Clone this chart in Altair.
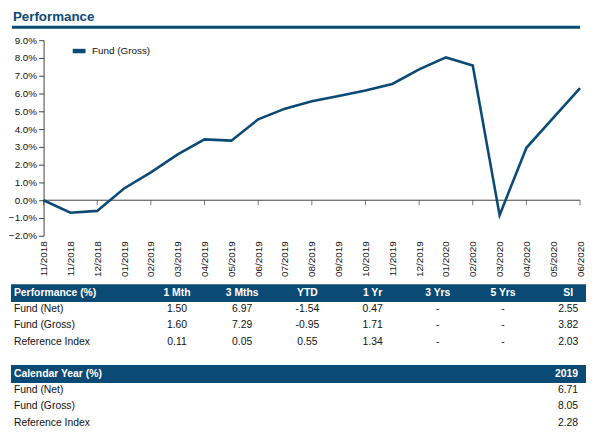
import altair as alt
import pandas as pd

# ---------------- data ----------------
months = ["11/2018", "11/2018", "12/2018", "01/2019", "02/2019", "03/2019", "04/2019",
          "05/2019", "06/2019", "07/2019", "08/2019", "09/2019", "10/2019", "11/2019",
          "12/2019", "01/2020", "02/2020", "03/2020", "04/2020", "05/2020", "06/2020"]
fund_gross = [0.0, -0.70, -0.60, 0.66, 1.57, 2.58, 3.42, 3.35, 4.55, 5.15, 5.57,
              5.86, 6.17, 6.54, 7.36, 8.03, 7.58, -0.84, 2.95, 4.63, 6.30]
y_ticks = [-2, -1, 0, 1, 2, 3, 4, 5, 6, 7, 8, 9]

perf_columns = ["1 Mth", "3 Mths", "YTD", "1 Yr", "3 Yrs", "5 Yrs", "SI"]
row_names = ["Fund (Net)", "Fund (Gross)", "Reference Index"]
perf_net = ["1.50", "6.97", "-1.54", "0.47", "-", "-", "2.55"]
perf_gross = ["1.60", "7.29", "-0.95", "1.71", "-", "-", "3.82"]
perf_ref = ["0.11", "0.05", "0.55", "1.34", "-", "-", "2.03"]
cal_years = ["2019"]
cal_values = ["6.71", "8.05", "2.28"]

# ---------------- style ----------------
BLUE = "#0b4a74"
AXIS = "#404040"
TXT = "#111111"
FONT = "Liberation Sans"
W, H = 543, 198
ROW_KEYS = ["h1", "r1", "r2", "r3", "gap", "h2", "c1", "c2", "c3"]

# ---------------- line chart ----------------
n = len(months)
line_df = pd.DataFrame({"i": list(range(n)), "v": fund_gross,
                        "series": ["Fund (Gross)"] * n})
tick_df = pd.DataFrame({"i": list(range(0, n, 2)), "v": [0.0] * len(range(0, n, 2))})
zero_df = pd.DataFrame({"i": [0], "i2": [n - 1], "v": [0.0]})
label_js = "[" + ",".join(f"'{m}'" for m in months) + "]"

xs = alt.Scale(domain=[0, n - 1], nice=False, zero=False)
ys = alt.Scale(domain=[-2, 9], nice=False)
x_axis = alt.Axis(
    orient="bottom", title=None, values=list(range(n)),
    labelExpr=f"{label_js}[datum.value]",
    labelAngle=-90, labelPadding=5, labelOverlap=False, labelFlush=False,
    ticks=False, domain=False, grid=False, labelFontSize=10, labelFont=FONT,
    labelColor=TXT)
y_axis = alt.Axis(
    title=None, values=y_ticks, labelExpr="format(datum.value, '.1f') + '%'",
    labelOverlap=False, labelFlush=False,
    grid=False, tickSize=5, tickColor=AXIS, domainColor=AXIS, labelPadding=2,
    labelFontSize=10, labelFont=FONT, labelColor=TXT)
X = alt.X("i:Q", scale=xs, axis=x_axis)
YV = alt.Y("v:Q", scale=ys, axis=y_axis)

zero_line = alt.Chart(zero_df).mark_rule(color=AXIS, strokeWidth=1).encode(
    x=X, x2="i2:Q", y=YV)
zero_ticks = alt.Chart(tick_df).mark_tick(
    color=AXIS, orient="vertical", size=5, thickness=1, yOffset=2.5).encode(x=X, y=YV)

line = alt.Chart(line_df).mark_line(strokeWidth=2.6, strokeJoin="miter").encode(
    x=X, y=YV,
    color=alt.Color("series:N", scale=alt.Scale(range=[BLUE]), legend=alt.Legend(
        title=None, orient="none", legendX=27, legendY=2, padding=0,
        symbolType="stroke", symbolStrokeWidth=4.5, symbolSize=169,
        labelFontSize=10, labelFont=FONT, labelColor=TXT, labelOffset=4)),
)

plot = alt.layer(zero_line, zero_ticks, line)

# ---------------- table ----------------
recs = []
for rn, vals in zip(["r1", "r2", "r3"], [perf_net, perf_gross, perf_ref]):
    for c, v in zip(perf_columns, vals):
        recs.append({"row": rn, "col": c, "txt": v})
val_df = pd.DataFrame(recs)
head_df = pd.DataFrame({"row": ["h1"] * len(perf_columns), "col": perf_columns,
                        "txt": perf_columns})
head_lab_df = pd.DataFrame({"row": ["h1", "h2"],
                            "txt": ["Performance (%)", "Calendar Year (%)"]})
body_lab_df = pd.DataFrame({"row": ["r1", "r2", "r3", "c1", "c2", "c3"],
                            "txt": row_names + row_names})
cal_head_df = pd.DataFrame({"row": ["h2"], "txt": cal_years})
cal_val_df = pd.DataFrame({"row": ["c1", "c2", "c3"], "txt": cal_values})
bar_df = pd.DataFrame({"row": ["h1", "h2"]})

row_scale = alt.Scale(type="point", domain=ROW_KEYS, range=[256, 387], padding=0)
col_scale = alt.Scale(type="point", domain=perf_columns, range=[135, 531], padding=0)
Y = alt.Y("row:N", scale=row_scale, axis=None)
XC = alt.X("col:N", scale=col_scale, axis=None)

head_style = dict(font=FONT, fontSize=10.5, fontWeight="bold", color="white", baseline="middle")
body_style = dict(font=FONT, fontSize=10.5, color=TXT, baseline="middle")

bars = alt.Chart(bar_df).mark_rect(color=BLUE, height=18).encode(
    y=Y, x=alt.value(-33), x2=alt.value(549))
heads = alt.Chart(head_df).mark_text(**head_style).encode(y=Y, x=XC, text="txt:N")
vals = alt.Chart(val_df).mark_text(**body_style).encode(y=Y, x=XC, text="txt:N")
head_labels = alt.Chart(head_lab_df).mark_text(align="left", **head_style).encode(
    y=Y, x=alt.value(-30), text="txt:N")
body_labels = alt.Chart(body_lab_df).mark_text(align="left", **body_style).encode(
    y=Y, x=alt.value(-30), text="txt:N")
cal_head = alt.Chart(cal_head_df).mark_text(align="right", **head_style).encode(
    y=Y, x=alt.value(541), text="txt:N")
cal_vals = alt.Chart(cal_val_df).mark_text(align="right", **body_style).encode(
    y=Y, x=alt.value(541), text="txt:N")

title_df = pd.DataFrame({"t": ["Performance"]})
title = alt.Chart(title_df).mark_text(font=FONT, fontSize=13.5, fontWeight="bold", color=BLUE,
                                      align="left", baseline="top").encode(
    x=alt.value(-31), y=alt.value(-30), text="t:N")
underline = alt.Chart(title_df).mark_rule(color=BLUE, strokeWidth=3, strokeCap="butt").encode(
    x=alt.value(-32), x2=alt.value(543), y=alt.value(-13))

table = alt.layer(bars, heads, vals, head_labels, body_labels, cal_head, cal_vals,
                  title, underline)

chart = alt.layer(plot, table).resolve_scale(
    x="independent", y="independent", color="independent"
).properties(width=W, height=H, padding=0, background="white").configure_view(stroke=None)

chart.save("out.html", embed_options={"renderer": "svg", "actions": False})
